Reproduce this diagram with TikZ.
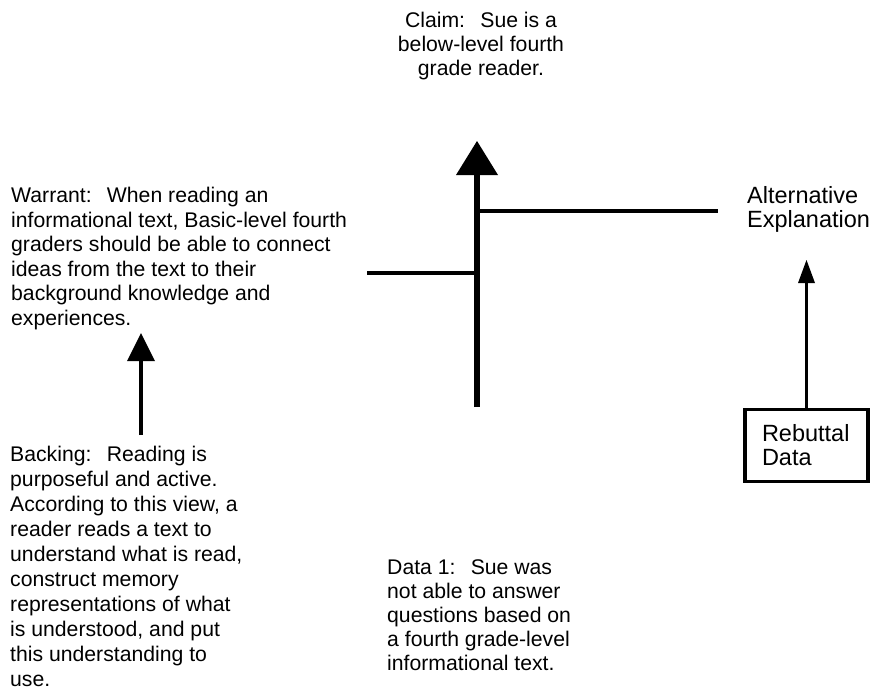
\documentclass[tikz,border=0pt]{standalone}
\usepackage{fontspec}
\setmainfont{Liberation Sans}
\usetikzlibrary{arrows.meta,positioning}

\newcommand{\gap}{\hspace{0.72em}}

\begin{document}
\begin{tikzpicture}[x=1pt, y=-1pt,
  txt/.style={inner sep=0pt, align=left, anchor=north west, font=\fontsize{21.2}{24}\selectfont},
  bigtxt/.style={font=\fontsize{23.5}{24}\selectfont},
  thinline/.style={line width=3.2pt},
  thickline/.style={line width=6pt},
  bigtip/.style={-{Triangle[width=42pt, length=34pt, line width=0pt]}},
  smalltip/.style={-{Triangle[width=17pt, length=23pt, line width=0pt]}},
  midtip/.style={-{Triangle[width=28pt, length=28pt, line width=0pt]}}]
\useasboundingbox (0,0) rectangle (873,689);

% texts
\node[txt, anchor=north, align=center] (claim) at (481,12) {Claim:\gap Sue is a\\below-level fourth\\grade reader.};
\node[txt, font=\fontsize{21.2}{24.6}\selectfont] (warrant) at (11,187) {Warrant:\gap When reading an\\informational text, Basic-level fourth\\graders should be able to connect\\ideas from the text to their\\background knowledge and\\experiences.};
\node[txt, font=\fontsize{21.2}{25}\selectfont] (backing) at (10,445.5) {Backing:\gap Reading is\\purposeful and active.\\According to this view, a\\reader reads a text to\\understand what is read,\\construct memory\\representations of what\\is understood, and put\\this understanding to\\use.};
\node[txt] (data) at (387,559) {Data 1:\gap Sue was\\not able to answer\\questions based on\\a fourth grade-level\\informational text.};
\node[txt, bigtxt] (altexpl) at (747,186) {Alternative\\Explanation};
\node[draw, line width=3.5pt, minimum width=123pt, minimum height=72pt, inner xsep=17pt, text width=89pt, align=left, bigtxt] (rebuttal) at (806.5,445.5) {Rebuttal\\Data};

% free ends
\coordinate (datastart) at (477,407);
\coordinate (claimtip) at (477,141);
\coordinate (warrend) at (367,273);
\coordinate (warrjoin) at (475,273);
\coordinate (altjoin) at (480,211);
\coordinate (altend) at (718,211);
\coordinate (backstart) at (141,435);
\coordinate (warrtip) at (141,333);
\coordinate (alttip) at (806.5,260);

% connectors
\draw[thickline, bigtip] (datastart) -- (claimtip);
\draw[thinline] (warrend) -- (warrjoin);
\draw[thinline] (altjoin) -- (altend);
\draw[thinline, midtip] (backstart) -- (warrtip);
\draw[thinline, smalltip] (rebuttal.north) -- (alttip);
\end{tikzpicture}
\end{document}
